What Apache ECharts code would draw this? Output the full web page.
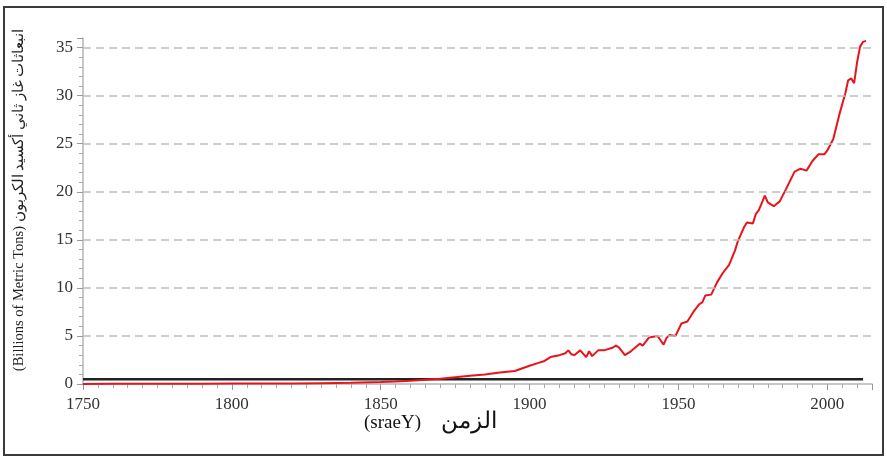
<!DOCTYPE html>
<html>
<head>
<meta charset="utf-8">
<script src="https://cdn.jsdelivr.net/npm/echarts@6/dist/echarts.min.js"></script>
<style>
  html, body { margin: 0; padding: 0; background: #fff; }
  #main { width: 887px; height: 459px; }
</style>
</head>
<body>
<div id="main"></div>
<script>
// emissions, billions of metric tons
var years = [1750, 1760, 1770, 1780, 1790, 1800, 1810, 1820, 1830, 1840, 1850, 1855, 1860, 1865, 1870, 1875,
  1880, 1885, 1890, 1895, 1900, 1903, 1905, 1907, 1910, 1912, 1913, 1914, 1915, 1917, 1919, 1920, 1921, 1923,
  1925, 1928, 1929, 1930, 1932, 1934, 1937, 1938, 1940, 1941, 1943, 1945, 1946, 1947, 1949, 1951, 1953, 1955,
  1957, 1958, 1959, 1961, 1963, 1965, 1967, 1969, 1970, 1972, 1973, 1975, 1976, 1977, 1979, 1980, 1982, 1984,
  1986, 1989, 1991, 1993, 1995, 1997, 1999, 2000, 2002, 2004, 2006, 2007, 2008, 2009, 2010, 2011, 2012, 2013];
var emissions = [0.01, 0.02, 0.02, 0.03, 0.03, 0.04, 0.05, 0.05, 0.08, 0.12, 0.2, 0.25, 0.33, 0.45, 0.55, 0.7,
  0.85, 1.0, 1.2, 1.35, 1.9, 2.2, 2.4, 2.8, 3.0, 3.2, 3.5, 3.1, 3.0, 3.5, 2.8, 3.4, 2.9, 3.5,
  3.5, 3.8, 4.0, 3.8, 3.0, 3.4, 4.2, 4.0, 4.8, 4.9, 5.0, 4.1, 4.8, 5.1, 5.0, 6.3, 6.5, 7.5,
  8.3, 8.5, 9.2, 9.3, 10.6, 11.6, 12.4, 13.9, 14.9, 16.3, 16.8, 16.7, 17.7, 18.1, 19.6, 18.9, 18.5, 19.0,
  20.2, 22.1, 22.4, 22.2, 23.2, 23.9, 23.9, 24.3, 25.5, 28.0, 30.2, 31.6, 31.8, 31.3, 33.5, 35.1, 35.6, 35.7];
var refYears = [1750, 2012];
var refValues = [0.5, 0.5];
var gridValues = [5, 10, 15, 20, 25, 30, 35];

var redData = years.map(function (y, i) { return [y, emissions[i]]; });
var blackData = refYears.map(function (y, i) { return [y, refValues[i]]; });

var chart = echarts.init(document.getElementById('main'));
var serif = '"Liberation Serif", "DejaVu Serif", serif';

var option = {
    backgroundColor: '#fff',
    animation: false,
    grid: { left: 83, right: 15, top: 38, bottom: 75 },
    graphic: [
        {
            type: 'rect',
            shape: { x: 4, y: 7, width: 879, height: 448 },
            style: { fill: 'none', stroke: '#3a3a3a', lineWidth: 2 },
            silent: true
        },
        {
            // y axis title, read bottom to top
            type: 'text',
            x: 19,
            y: 200,
            rotation: Math.PI / 2,
            style: {
                text: '(Billions of Metric Tons) انبعاثات غاز ثاني أكسيد الكربون',
                font: '14.5px ' + serif,
                fill: '#222',
                align: 'center',
                verticalAlign: 'middle'
            }
        },
        {
            type: 'text',
            left: 364,
            top: 410,
            style: {
                text: '{a|(sraeY)}{b|الزمن}',
                rich: {
                    a: { font: '19px ' + serif, fill: '#111', verticalAlign: 'bottom' },
                    b: { font: '23px ' + serif, fill: '#111', verticalAlign: 'bottom', padding: [0, 0, 0, 20] }
                }
            }
        }
    ],
    xAxis: {
        type: 'value',
        min: 1750,
        max: 2015,
        interval: 50,
        axisLine: { lineStyle: { color: '#b5b5b5', width: 1.5 } },
        axisTick: { show: true, length: 6, lineStyle: { color: '#999' } },
        minorTick: { show: true, splitNumber: 10, length: 4, lineStyle: { color: '#aaa' } },
        splitLine: { show: false },
        axisLabel: {
            showMaxLabel: false,
            formatter: function (v) { return String(v); },
            color: '#333',
            fontFamily: serif,
            fontSize: 17,
            margin: 12
        }
    },
    yAxis: {
        type: 'value',
        min: 0,
        max: 36,
        interval: 5,
        axisLine: { show: true, lineStyle: { color: '#b5b5b5', width: 1.5 } },
        axisTick: { show: true, length: 6, lineStyle: { color: '#999' } },
        minorTick: { show: true, splitNumber: 5, length: 4, lineStyle: { color: '#aaa' } },
        splitLine: { show: false },
        axisLabel: {
            showMaxLabel: false,
            color: '#333',
            fontFamily: serif,
            fontSize: 17,
            margin: 10
        }
    },
    series: [
        {
            type: 'line',
            data: blackData,
            symbol: 'none',
            lineStyle: { color: '#222', width: 2.5 },
            z: 3,
            markLine: {
                silent: true,
                symbol: 'none',
                label: { show: false },
                lineStyle: { color: '#bdbdbd', type: [8, 5], width: 1.5 },
                data: gridValues.map(function (v) { return { yAxis: v }; })
            }
        },
        {
            type: 'line',
            data: redData,
            symbol: 'none',
            lineStyle: { color: '#e8141c', width: 2 },
            z: 4
        }
    ]
};

chart.setOption(option);
</script>
</body>
</html>
